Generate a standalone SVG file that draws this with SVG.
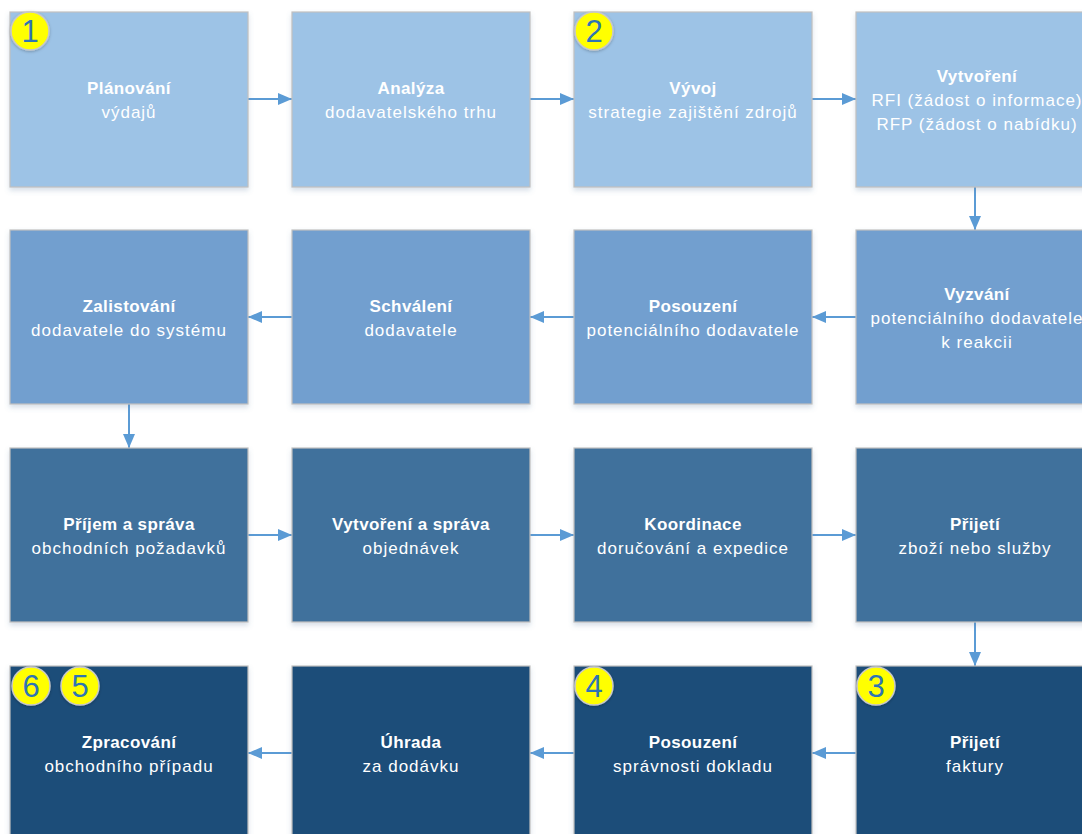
<svg xmlns="http://www.w3.org/2000/svg" width="1082" height="834" viewBox="0 0 1082 834">
<style>
.box{stroke:#c0c0c0;stroke-width:1.2;filter:url(#sh)}
.r1{fill:#9dc3e6}.r2{fill:#729fcf}.r3{fill:#41719c}.r4{fill:#1f4e79}
.t{font-family:"Liberation Sans",Arial,sans-serif;font-size:17px;fill:#ffffff;text-anchor:middle;letter-spacing:1px}
.b{font-weight:bold;letter-spacing:0.4px}
.badge{fill:#ffff00;stroke:#c8c8c8;stroke-width:1.5;filter:url(#bs)}
.num{font-family:"Liberation Sans",Arial,sans-serif;font-size:31px;fill:#2e74b5;text-anchor:middle}
.c{stroke:#5b9bd5;stroke-width:2;fill:none;marker-end:url(#ah)}
</style>
<defs>
<filter id="sh" x="-10%" y="-10%" width="120%" height="125%"><feDropShadow dx="0" dy="3" stdDeviation="2.5" flood-color="#5b7fa6" flood-opacity="0.25"/></filter>
<filter id="bs" x="-30%" y="-30%" width="160%" height="160%"><feDropShadow dx="0" dy="1" stdDeviation="1.5" flood-color="#000" flood-opacity="0.25"/></filter>
<marker id="ah" markerWidth="14" markerHeight="12" refX="14" refY="6" orient="auto" markerUnits="userSpaceOnUse"><path d="M0,0 L14,6 L0,12 Z" fill="#5b9bd5"/></marker>
</defs>
<rect width="1082" height="834" fill="#ffffff"/>
<g id="connectors">
<line class="c" x1="248" y1="99" x2="292" y2="99"/>
<line class="c" x1="530" y1="99" x2="574" y2="99"/>
<line class="c" x1="812" y1="99" x2="856" y2="99"/>
<line class="c" x1="975" y1="187" x2="975" y2="230"/>
<line class="c" x1="856" y1="317" x2="812" y2="317"/>
<line class="c" x1="574" y1="317" x2="530" y2="317"/>
<line class="c" x1="292" y1="317" x2="248" y2="317"/>
<line class="c" x1="129" y1="404" x2="129" y2="448"/>
<line class="c" x1="248" y1="535" x2="292" y2="535"/>
<line class="c" x1="530" y1="535" x2="574" y2="535"/>
<line class="c" x1="812" y1="535" x2="856" y2="535"/>
<line class="c" x1="975" y1="622" x2="975" y2="666"/>
<line class="c" x1="856" y1="753" x2="812" y2="753"/>
<line class="c" x1="574" y1="753" x2="530" y2="753"/>
<line class="c" x1="292" y1="753" x2="248" y2="753"/>
</g>
<g id="n1"><rect class="box r1" x="10" y="12" width="238" height="175"/><text class="t b" x="129" y="94">Plánování</text><text class="t" x="129" y="118">výdajů</text></g>
<g id="n2"><rect class="box r1" x="292" y="12" width="238" height="175"/><text class="t b" x="411" y="94">Analýza</text><text class="t" x="411" y="118">dodavatelského trhu</text></g>
<g id="n3"><rect class="box r1" x="574" y="12" width="238" height="175"/><text class="t b" x="693" y="94">Vývoj</text><text class="t" x="693" y="118">strategie zajištění zdrojů</text></g>
<g id="n4"><rect class="box r1" x="856" y="12" width="238" height="175"/><text class="t b" x="977" y="82">Vytvoření</text><text class="t" x="977" y="106">RFI (žádost o informace)</text><text class="t" x="977" y="130">RFP (žádost o nabídku)</text></g>
<g id="n5"><rect class="box r2" x="856" y="230" width="238" height="174"/><text class="t b" x="977" y="300">Vyzvání</text><text class="t" x="977" y="324">potenciálního dodavatele</text><text class="t" x="977" y="348">k reakcii</text></g>
<g id="n6"><rect class="box r2" x="574" y="230" width="238" height="174"/><text class="t b" x="693" y="312">Posouzení</text><text class="t" x="693" y="336">potenciálního dodavatele</text></g>
<g id="n7"><rect class="box r2" x="292" y="230" width="238" height="174"/><text class="t b" x="411" y="312">Schválení</text><text class="t" x="411" y="336">dodavatele</text></g>
<g id="n8"><rect class="box r2" x="10" y="230" width="238" height="174"/><text class="t b" x="129" y="312">Zalistování</text><text class="t" x="129" y="336">dodavatele do systému</text></g>
<g id="n9"><rect class="box r3" x="10" y="448" width="238" height="174"/><text class="t b" x="129" y="530">Příjem a správa</text><text class="t" x="129" y="554">obchodních požadavků</text></g>
<g id="n10"><rect class="box r3" x="292" y="448" width="238" height="174"/><text class="t b" x="411" y="530">Vytvoření a správa</text><text class="t" x="411" y="554">objednávek</text></g>
<g id="n11"><rect class="box r3" x="574" y="448" width="238" height="174"/><text class="t b" x="693" y="530">Koordinace</text><text class="t" x="693" y="554">doručování a expedice</text></g>
<g id="n12"><rect class="box r3" x="856" y="448" width="238" height="174"/><text class="t b" x="975" y="530">Přijetí</text><text class="t" x="975" y="554">zboží nebo služby</text></g>
<g id="n13"><rect class="box r4" x="856" y="666" width="238" height="174"/><text class="t b" x="975" y="748">Přijetí</text><text class="t" x="975" y="772">faktury</text></g>
<g id="n14"><rect class="box r4" x="574" y="666" width="238" height="174"/><text class="t b" x="693" y="748">Posouzení</text><text class="t" x="693" y="772">správnosti dokladu</text></g>
<g id="n15"><rect class="box r4" x="292" y="666" width="238" height="174"/><text class="t b" x="411" y="748">Úhrada</text><text class="t" x="411" y="772">za dodávku</text></g>
<g id="n16"><rect class="box r4" x="10" y="666" width="238" height="174"/><text class="t b" x="129" y="748">Zpracování</text><text class="t" x="129" y="772">obchodního případu</text></g>
<g id="badge1"><circle class="badge" cx="30" cy="31" r="19"/><text class="num" x="30" y="42">1</text></g>
<g id="badge2"><circle class="badge" cx="594" cy="31" r="19"/><text class="num" x="594" y="42">2</text></g>
<g id="badge3"><circle class="badge" cx="876" cy="686" r="19"/><text class="num" x="876" y="697">3</text></g>
<g id="badge4"><circle class="badge" cx="594" cy="686" r="19"/><text class="num" x="594" y="697">4</text></g>
<g id="badge6"><circle class="badge" cx="31" cy="686" r="19"/><text class="num" x="31" y="697">6</text></g>
<g id="badge5"><circle class="badge" cx="80" cy="686" r="19"/><text class="num" x="80" y="697">5</text></g>
</svg>
